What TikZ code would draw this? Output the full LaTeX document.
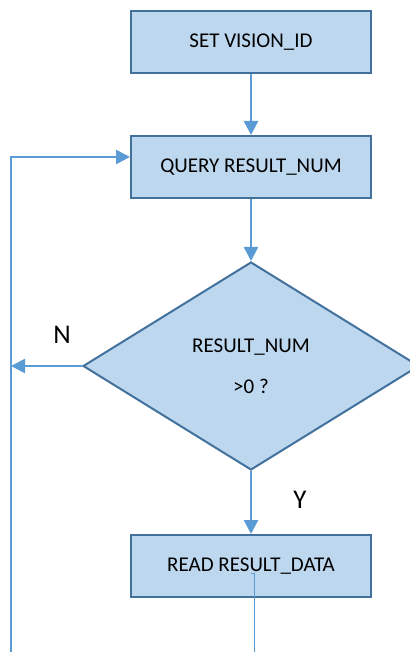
\documentclass[tikz,border=0pt]{standalone}
\usepackage{fontspec}
\setmainfont{Carlito}
\usetikzlibrary{positioning,shapes.geometric,arrows.meta}
\definecolor{boxfill}{HTML}{BDD7EE}
\definecolor{boxline}{HTML}{41719C}
\definecolor{flowline}{HTML}{5B9BD5}

\begin{document}
\begin{tikzpicture}[x=1pt,y=-1pt,
	stepbox/.style={draw=boxline, fill=boxfill, line width=2pt, minimum width=240pt, minimum height=62pt, font=\fontsize{21}{25}\selectfont},
	decision/.style={draw=boxline, fill=boxfill, line width=2pt, diamond, aspect=1.615, minimum width=336pt, minimum height=208pt, inner sep=0pt, align=center, font=\fontsize{21}{25}\selectfont},
	answer/.style={font=\fontsize{27}{31}\selectfont},
	flow/.style={draw=flowline, line width=2.5pt, -{Triangle[width=14pt,length=14pt]}},
	thinflow/.style={draw=flowline, line width=1pt}]
	\useasboundingbox (0,0) rectangle (409,652);
	% Steps
	\node[stepbox] (setid) at (251,42) {SET VISION\_ID};
	\node[stepbox, below=61pt of setid] (query) {QUERY RESULT\_NUM};
	\node[decision, below=62pt of query] (check) {RESULT\_NUM\\[16pt]>0 ?};
	\node[stepbox, below=63pt of check] (read) {READ RESULT\_DATA};
	\node[answer] (no) at (62,335) {N};
	\node[answer] (yes) at (300,500) {Y};
	
	% Loop
	\coordinate (loopbot) at (11,652);
	\coordinate (looptop) at (11,157);
	\coordinate (hook) at (251,573);
	\coordinate (readout) at (254,573);
	\coordinate (readend) at (254,652);
	
	% Connectors
	\draw[flow] (setid) -- (query);
	\draw[flow] (query) -- (check);
	\draw[flow] (check) -- (read);
	\draw[flow] (check.west) -- (check.west -| loopbot);
	\draw[flow] (loopbot) -- (looptop) -- (looptop -| query.west);
	\draw[thinflow] (hook) -- (readout) -- (readend);
\end{tikzpicture}
\end{document}
